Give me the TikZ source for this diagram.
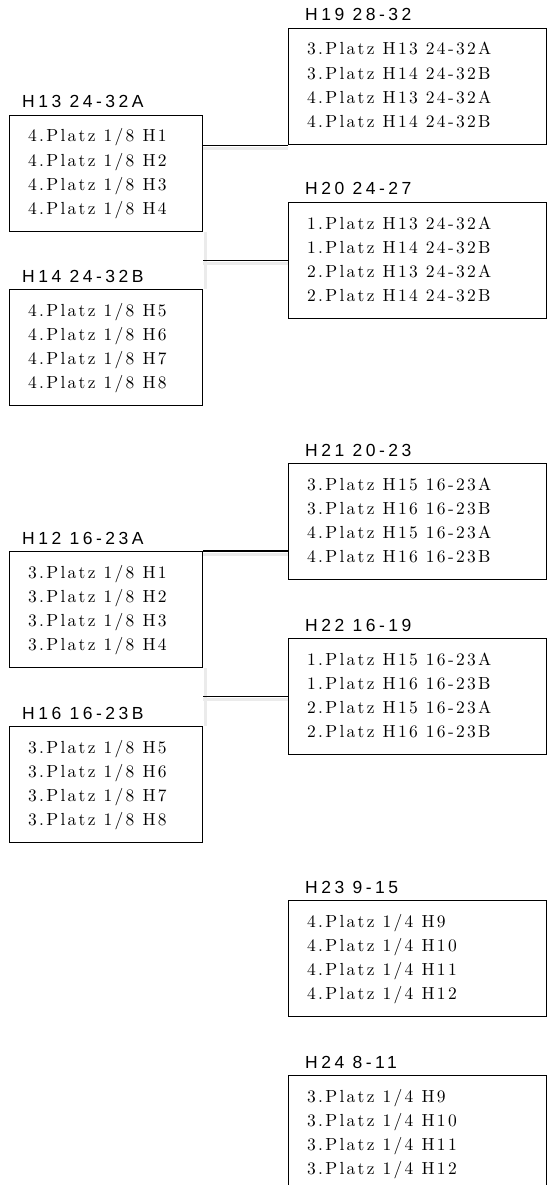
\documentclass[tikz,border=0pt]{standalone}
\usepackage{fontspec}
\newfontfamily\labelfont[LetterSpace=20]{Liberation Sans}
\newfontfamily\boxfont[LetterSpace=13]{lmroman10-regular.otf}
\usetikzlibrary{calc}
\tikzset{
  tbox/.style={draw, line width=1.2pt, anchor=north west, inner sep=0pt, minimum height=116pt},
  lbl/.style={anchor=base west, inner sep=0pt, font=\labelfont\fontsize{17.5}{19}\selectfont},
  txt/.style={anchor=base west, inner sep=0pt, font=\boxfont\fontsize{17.5}{19}\selectfont},
  conn/.style={draw, line width=1.2pt},
  cshadow/.style={draw=black!8, line width=3pt},
}
\newcommand{\mkbox}[7]{% name, x, y, width, label dx, label, lines
  \node[tbox, minimum width=#4pt] (#1) at (#2,#3) {};
  \node[lbl] (#1-l) at ($(#1.north west)+(#5,-7)$) {#6};
  \foreach \t [count=\i] in {#7}
    \node[txt] (#1-\i) at ($(#1.north west)+(19,{27+24.3*(\i-1)})$) {\t};
}
\begin{document}
\begin{tikzpicture}[x=1pt,y=-1pt]
\useasboundingbox (0,0) rectangle (547,1185);
% group 1
\mkbox{h13}{9}{115}{193}{13}{H13 24-32A}{4.Platz 1/8 H1,4.Platz 1/8 H2,4.Platz 1/8 H3,4.Platz 1/8 H4}
\mkbox{h14}{9}{289}{193}{13}{H14 24-32B}{4.Platz 1/8 H5,4.Platz 1/8 H6,4.Platz 1/8 H7,4.Platz 1/8 H8}
\mkbox{h19}{288}{28}{258}{17}{H19 28-32}{3.Platz H13 24-32A,3.Platz H14 24-32B,4.Platz H13 24-32A,4.Platz H14 24-32B}
\mkbox{h20}{288}{202}{258}{17}{H20 24-27}{1.Platz H13 24-32A,1.Platz H14 24-32B,2.Platz H13 24-32A,2.Platz H14 24-32B}
% group 2
\mkbox{h12}{9}{551}{193}{13}{H12 16-23A}{3.Platz 1/8 H1,3.Platz 1/8 H2,3.Platz 1/8 H3,3.Platz 1/8 H4}
\mkbox{h16}{9}{726}{193}{13}{H16 16-23B}{3.Platz 1/8 H5,3.Platz 1/8 H6,3.Platz 1/8 H7,3.Platz 1/8 H8}
\mkbox{h21}{288}{463}{258}{17}{H21 20-23}{3.Platz H15 16-23A,3.Platz H16 16-23B,4.Platz H15 16-23A,4.Platz H16 16-23B}
\mkbox{h22}{288}{638}{258}{17}{H22 16-19}{1.Platz H15 16-23A,1.Platz H16 16-23B,2.Platz H15 16-23A,2.Platz H16 16-23B}
% group 3
\mkbox{h23}{288}{900}{258}{17}{H23 9-15}{4.Platz 1/4 H9,4.Platz 1/4 H10,4.Platz 1/4 H11,4.Platz 1/4 H12}
\mkbox{h24}{288}{1075}{258}{17}{H24 8-11}{3.Platz 1/4 H9,3.Platz 1/4 H10,3.Platz 1/4 H11,3.Platz 1/4 H12}
% shadows
\draw[cshadow] ([yshift=-3pt]h19.south west) -- ([yshift=-3pt]h19.south west -| h13.east);
\draw[cshadow] ([yshift=-3pt]h20.west) -- ([yshift=-3pt]h20.west -| h13.east);
\draw[cshadow] ([xshift=2.5pt]h13.south east) -- ([xshift=2.5pt]h14.north east);
\draw[cshadow] ([yshift=-3pt]h12.north east) -- ([yshift=-3pt]h12.north east -| h21.west);
\draw[cshadow] ([yshift=-3pt]h22.west) -- ([yshift=-3pt]h22.west -| h12.east);
\draw[cshadow] ([xshift=2.5pt]h12.south east) -- ([xshift=2.5pt]h16.north east);
% connectors
\draw[conn] (h19.south west) -- (h19.south west -| h13.east);
\draw[conn] (h20.west) -- (h20.west -| h13.east);
\draw[conn] (h12.north east) -- (h12.north east -| h21.west);
\draw[conn] (h22.west) -- (h22.west -| h12.east);
\end{tikzpicture}
\end{document}
